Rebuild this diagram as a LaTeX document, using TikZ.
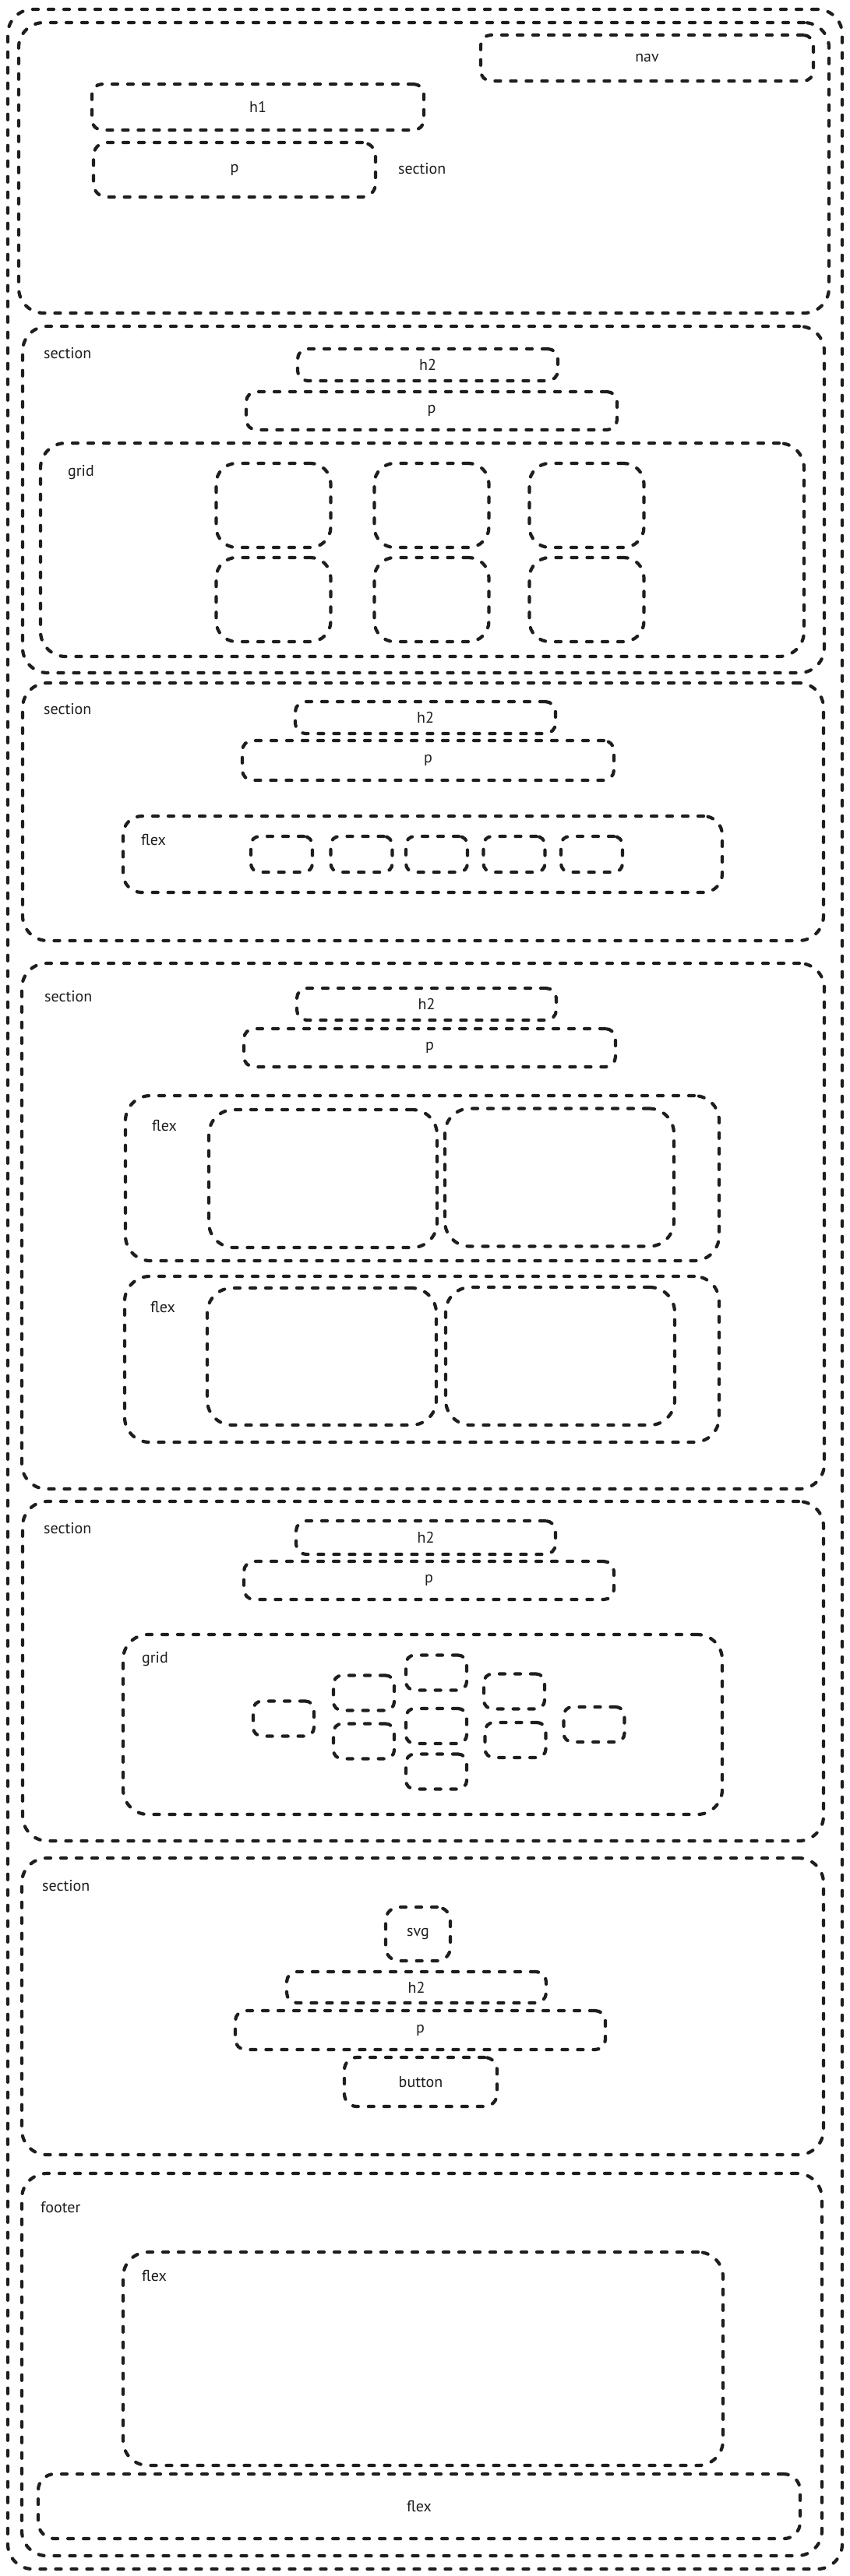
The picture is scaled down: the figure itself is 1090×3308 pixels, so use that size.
\documentclass[tikz,border=0pt]{standalone}
\usepackage{fontspec}
\setmainfont{PT Sans}
\definecolor{ink}{RGB}{30,30,30}

\begin{document}
\begin{tikzpicture}[x=1pt, y=-1pt, font=\fontsize{20}{24}\selectfont, text=ink,
  box/.style={draw=ink, line width=4.2pt, dash pattern=on 7pt off 13pt, line cap=round, inner sep=0pt, outer sep=0pt},
  frame/.style={box, rounded corners=32pt},
  tile/.style={box, rounded corners=26pt},
  bar/.style={box, rounded corners=13pt},
  chip/.style={box, rounded corners=11pt},
  tag/.style={anchor=base west, inner sep=0pt}]
\fill[white] (0,0) rectangle (1090,3308);
\useasboundingbox (0,0) rectangle (1090,3308);

% page
\node[frame, minimum width=1071pt, minimum height=3287pt] (page) at (545.5,1655.5) {};

% header section
\node[frame, minimum width=1040pt, minimum height=373pt] (hdr) at (544,215.5) {};
\node[bar, minimum width=427pt, minimum height=59pt] (nav) at (830.5,74.5) {nav};
\node[bar, minimum width=426pt, minimum height=59pt] (h1) at (331,137.5) {h1};
\node[bar, rounded corners=17pt, minimum width=362pt, minimum height=70pt] (hp) at (301,218) {p};
\node[tag] (hdrtag) at (511,223) {section};

% section with grid of cards
\node[frame, minimum width=1029pt, minimum height=445pt] (secB) at (543.5,641.5) {};
\node[tag] (secBtag) at (56,460) {section};
\node[bar, minimum width=334pt, minimum height=41pt] (secBh) at (549,468.5) {h2};
\node[bar, minimum width=476pt, minimum height=49pt] (secBp) at (554,527.5) {p};
\node[frame, minimum width=980pt, minimum height=274pt] (gridB) at (542,706) {};
\node[tag] (gridBtag) at (87,611) {grid};
\foreach \cx [count=\i] in {351,554,753}
  \foreach \cy [count=\j] in {649,770}
    \node[tile, minimum width=147pt, minimum height=108pt] (cardB\i\j) at (\cx,\cy) {};

% section with flex row
\node[frame, minimum width=1028pt, minimum height=331pt] (secC) at (543,1042.5) {};
\node[tag] (secCtag) at (56,917) {section};
\node[bar, minimum width=334pt, minimum height=41pt] (secCh) at (546,921.5) {h2};
\node[bar, minimum width=477pt, minimum height=51pt] (secCp) at (549.5,976.5) {p};
\node[frame, rounded corners=24pt, minimum width=769pt, minimum height=98pt] (flexC) at (542.5,1097) {};
\node[tag] (flexCtag) at (181,1085) {flex};
\foreach \cx [count=\i] in {361.5,464,560.5,660,759.5}
  \node[chip, minimum width=79pt, minimum height=46pt] (itemC\i) at (\cx,1097) {};

% section with two flex rows
\node[frame, minimum width=1030pt, minimum height=675pt] (secD) at (543,1574.5) {};
\node[tag] (secDtag) at (57,1286) {section};
\node[bar, minimum width=333pt, minimum height=41pt] (secDh) at (547.5,1289.5) {h2};
\node[bar, minimum width=477pt, minimum height=49pt] (secDp) at (551.5,1345.5) {p};
\node[frame, minimum width=762pt, minimum height=212pt] (flexD1) at (542,1513) {};
\node[tag] (flexD1tag) at (195,1452) {flex};
\node[frame, minimum width=293pt, minimum height=177pt] (cardD11) at (414.5,1513.5) {};
\node[frame, minimum width=294pt, minimum height=177pt] (cardD12) at (718,1512) {};
\node[frame, minimum width=763pt, minimum height=213pt] (flexD2) at (541.5,1745.5) {};
\node[tag] (flexD2tag) at (193,1685) {flex};
\node[frame, minimum width=294pt, minimum height=176pt] (cardD21) at (413,1742) {};
\node[frame, minimum width=294pt, minimum height=177pt] (cardD22) at (719,1741.5) {};

% section with scattered grid
\node[frame, minimum width=1028pt, minimum height=436pt] (secE) at (543,2146) {};
\node[tag] (secEtag) at (56,1969) {section};
\node[bar, minimum width=333pt, minimum height=43pt] (secEh) at (546.5,1974.5) {h2};
\node[bar, minimum width=475pt, minimum height=49pt] (secEp) at (550.5,2029.5) {p};
\node[frame, minimum width=769pt, minimum height=231pt] (gridE) at (542.5,2214.5) {};
\node[tag] (gridEtag) at (182,2135) {grid};
\foreach \cx/\cy [count=\i] in {364/2207, 467/2174, 467/2236, 560/2148, 560/2216.5, 560/2275, 660/2172, 661.5/2234.5, 762.5/2214.5}
  \node[chip, minimum width=78pt, minimum height=45pt] (itemE\i) at (\cx,\cy) {};

% call to action section
\node[frame, minimum width=1029pt, minimum height=381pt] (secF) at (542.5,2576.5) {};
\node[tag] (secFtag) at (54,2428) {section};
\node[bar, rounded corners=17pt, minimum width=83pt, minimum height=69pt] (svg) at (536.5,2483.5) {svg};
\node[bar, minimum width=333pt, minimum height=40pt] (secFh) at (534.5,2552) {h2};
\node[bar, minimum width=475pt, minimum height=50pt] (secFp) at (539.5,2607) {p};
\node[bar, rounded corners=16pt, minimum width=196pt, minimum height=63pt] (btn) at (540,2673.5) {button};

% footer
\node[frame, minimum width=1027pt, minimum height=491pt] (foot) at (541.5,3036.5) {};
\node[tag] (foottag) at (52,2841) {footer};
\node[frame, minimum width=770pt, minimum height=274pt] (flexG1) at (543,3029) {};
\node[tag] (flexG1tag) at (182,2929) {flex};
\node[frame, rounded corners=21pt, minimum width=978pt, minimum height=83pt] (flexG2) at (538,3218.5) {flex};
\end{tikzpicture}
\end{document}
